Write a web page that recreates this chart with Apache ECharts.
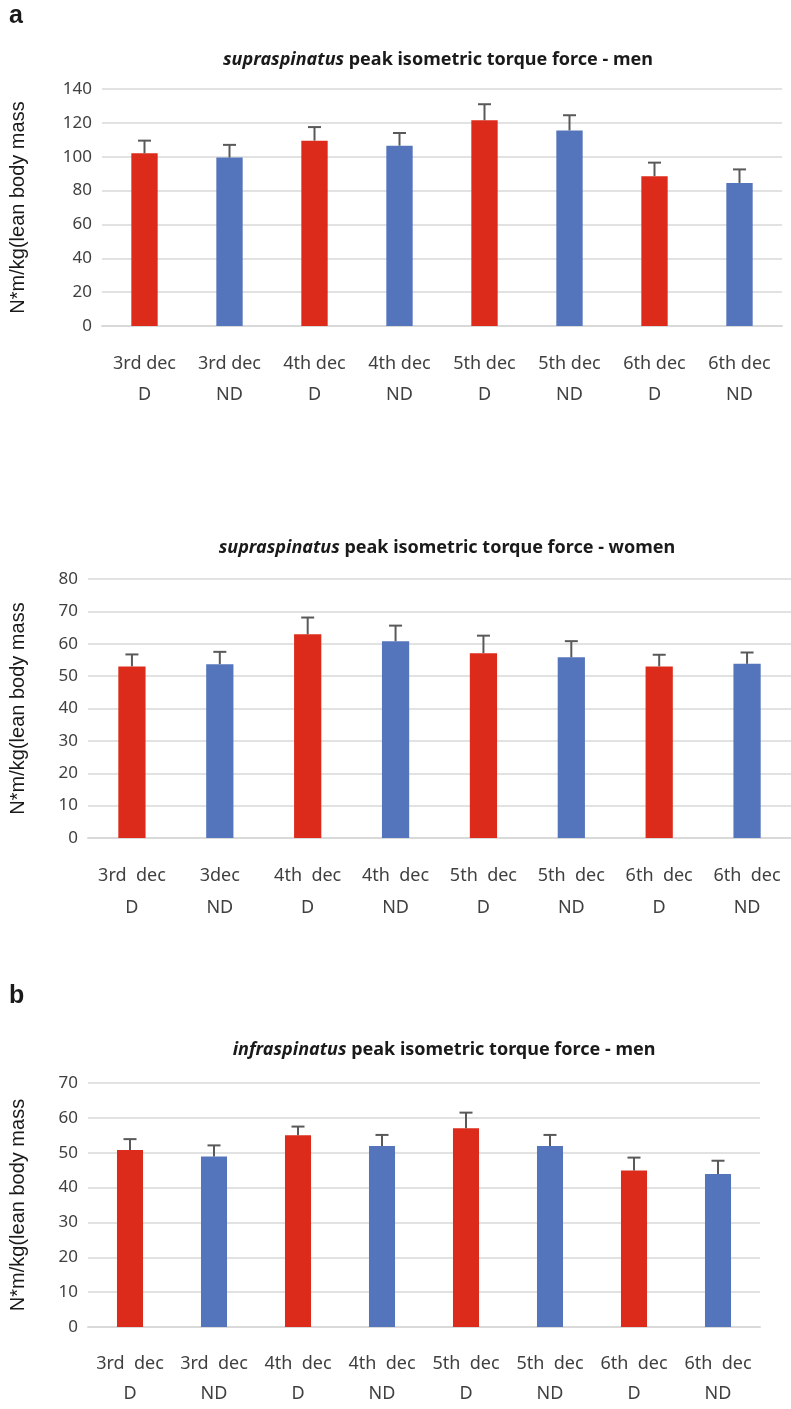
<!DOCTYPE html>
<html>
<head>
<meta charset="utf-8">
<script src="https://cdn.jsdelivr.net/npm/echarts@6/dist/echarts.min.js"></script>
<style>
  html, body { margin: 0; padding: 0; background: #fff; }
  #chart { width: 791px; height: 1409px; }
</style>
</head>
<body>
<div id="chart"></div>
<script>
// categories
const menSupraLabels = ['3rd dec\nD', '3rd dec\nND', '4th dec\nD', '4th dec\nND', '5th dec\nD', '5th dec\nND', '6th dec\nD', '6th dec\nND'];
const womenSupraLabels = ['3rd  dec\nD', '3dec\nND', '4th  dec\nD', '4th  dec\nND', '5th  dec\nD', '5th  dec\nND', '6th  dec\nD', '6th  dec\nND'];
const menInfraLabels = ['3rd  dec\nD', '3rd  dec\nND', '4th  dec\nD', '4th  dec\nND', '5th  dec\nD', '5th  dec\nND', '6th  dec\nD', '6th  dec\nND'];

// mean values and top of the error bar
const menSupraMean = [102, 99.5, 109.5, 106.5, 121.5, 115.5, 88.5, 84.5];
const menSupraUpper = [109.5, 107, 117.5, 114, 131, 124.5, 96.5, 92.5];
const womenSupraMean = [53, 53.7, 62.9, 60.8, 57.1, 55.8, 53, 53.8];
const womenSupraUpper = [56.7, 57.5, 68.1, 65.6, 62.5, 60.8, 56.6, 57.3];
const menInfraMean = [50.8, 48.9, 55, 51.9, 57, 51.9, 44.9, 43.9];
const menInfraUpper = [53.9, 52.1, 57.5, 55.1, 61.5, 55.1, 48.6, 47.7];

// y axis ranges
const yMax = [140, 80, 70];
const yStep = [20, 10, 10];

const RED = '#DC2B1A';
const BLUE = '#5474BC';
const GRID_GRAY = '#D9D9D9';
const LABEL = '#404040';
const yName = 'N*m/kg(lean body mass';

const grids = [
  { left: 102, width: 680, top: 89, height: 237 },
  { left: 88, width: 710, top: 579, height: 259 },
  { left: 88, width: 672, top: 1083, height: 249 }
];
const labelSets = [menSupraLabels, womenSupraLabels, menInfraLabels];
const means = [menSupraMean, womenSupraMean, menInfraMean];
const uppers = [menSupraUpper, womenSupraUpper, menInfraUpper];
const lineHeights = [31, 32, 30];

function errorBar(params, api) {
  const x = api.value(0);
  const base = api.coord([x, api.value(1)]);
  const top = api.coord([x, api.value(2)]);
  const half = 6.5;
  const style = { stroke: '#595959', lineWidth: 2 };
  return {
    type: 'group',
    children: [
      { type: 'line', shape: { x1: base[0], y1: base[1], x2: top[0], y2: top[1] }, style },
      { type: 'line', shape: { x1: top[0] - half, y1: top[1], x2: top[0] + half, y2: top[1] }, style }
    ]
  };
}

const xAxis = labelSets.map((labels, i) => ({
  type: 'category',
  gridIndex: i,
  data: labels,
  axisTick: { show: false },
  axisLine: { lineStyle: { color: GRID_GRAY, width: 2 } },
  axisLabel: {
    interval: 0,
    color: LABEL,
    fontFamily: 'Noto Sans',
    fontSize: 18,
    lineHeight: lineHeights[i],
    margin: 22
  }
}));

const yAxis = yMax.map((max, i) => ({
  type: 'value',
  gridIndex: i,
  min: 0,
  max: max,
  interval: yStep[i],
  name: yName,
  nameLocation: 'middle',
  nameGap: grids[i].left - 28,
  nameTextStyle: { color: '#1a1a1a', fontFamily: 'Liberation Sans', fontSize: 20 },
  axisLine: { show: false },
  axisTick: { show: false },
  axisLabel: { color: LABEL, fontFamily: 'Noto Sans', fontSize: 17, margin: 10 },
  splitLine: { lineStyle: { color: GRID_GRAY, width: 1.5 } }
}));

const series = [];
means.forEach((vals, i) => {
  series.push({
    type: 'bar',
    xAxisIndex: i,
    yAxisIndex: i,
    barWidth: '31%',
    data: vals.map((v, j) => ({ value: v, itemStyle: { color: j % 2 === 0 ? RED : BLUE } })),
    silent: true
  });
  series.push({
    type: 'custom',
    xAxisIndex: i,
    yAxisIndex: i,
    renderItem: errorBar,
    data: vals.map((v, j) => [j, v, uppers[i][j]]),
    z: 3,
    silent: true
  });
});

const titleStyle = {
  color: '#1a1a1a',
  fontFamily: 'Noto Sans',
  fontSize: 18,
  fontWeight: 'bold',
  rich: { i: { fontFamily: 'Noto Sans', fontSize: 18, fontWeight: 'bold', fontStyle: 'italic', color: '#1a1a1a' } }
};

const option = {
  animation: false,
  title: [
    { text: 'a', left: 9, top: 4, padding: 0, textStyle: { fontFamily: 'Liberation Sans', fontSize: 25, fontWeight: 'bold', color: '#1a1a1a' } },
    { text: 'b', left: 9, top: 984, padding: 0, textStyle: { fontFamily: 'Liberation Sans', fontSize: 25, fontWeight: 'bold', color: '#1a1a1a' } },
    { text: '{i|supraspinatus} peak isometric torque force - men', left: 438, top: 51, padding: 0, textAlign: 'center', textStyle: titleStyle },
    { text: '{i|supraspinatus} peak isometric torque force - women', left: 447, top: 539, padding: 0, textAlign: 'center', textStyle: titleStyle },
    { text: '{i|infraspinatus} peak isometric torque force - men', left: 444, top: 1041, padding: 0, textAlign: 'center', textStyle: titleStyle }
  ],
  grid: grids,
  xAxis: xAxis,
  yAxis: yAxis,
  series: series
};

const chart = echarts.init(document.getElementById('chart'));
chart.setOption(option);
</script>
</body>
</html>
